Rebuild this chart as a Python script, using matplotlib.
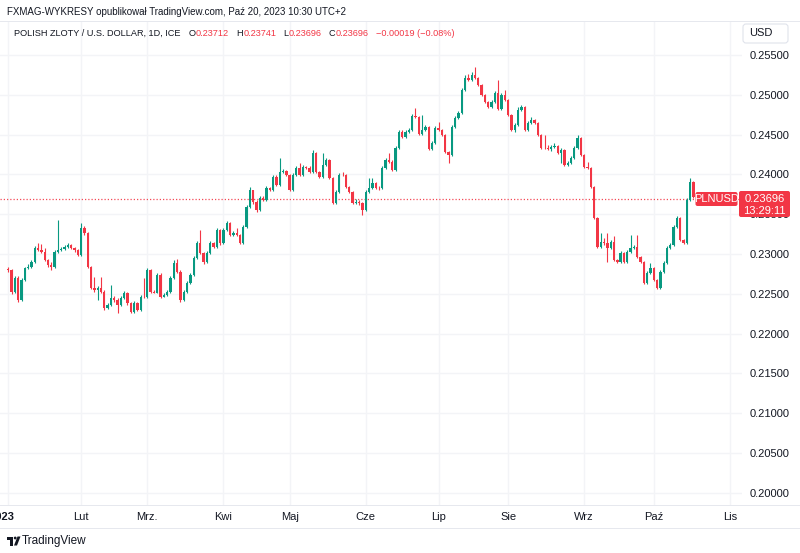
import matplotlib
matplotlib.use('Agg')
import matplotlib.pyplot as plt
from matplotlib import font_manager
from matplotlib.patches import FancyBboxPatch, Rectangle, Circle, Polygon

plt.rcParams['font.family'] = ['Liberation Sans', 'DejaVu Sans']

# PLN/USD daily candles, Jan 2 - Oct 20 2023
first_open = 0.22812
last_open = 0.23712
closes = [
    0.22800, 0.22523, 0.22699, 0.22423, 0.22674, 0.22825, 0.22837, 0.22900, 0.23076, 0.23051,
    0.23026, 0.22925, 0.22863, 0.22837, 0.23026, 0.23051, 0.23064, 0.23089, 0.23114, 0.23076,
    0.23051, 0.22988, 0.23327, 0.23265, 0.22837, 0.22574, 0.22549, 0.22574, 0.22523, 0.22323,
    0.22360, 0.22448, 0.22423, 0.22360, 0.22448, 0.22511, 0.22385, 0.22272, 0.22385, 0.22297,
    0.22461, 0.22455, 0.22800, 0.22523, 0.22515, 0.22737, 0.22461, 0.22486, 0.22523, 0.22699,
    0.22888, 0.22775, 0.22423, 0.22523, 0.22637, 0.22737, 0.22951, 0.23139,
    0.23013, 0.22900, 0.23013, 0.23139, 0.23089, 0.23302, 0.23139, 0.23302, 0.23390, 0.23239,
    0.23265, 0.23239, 0.23139, 0.23340, 0.23591, 0.23805, 0.23654, 0.23553, 0.23704, 0.23679,
    0.23830, 0.23805, 0.23968, 0.23867, 0.24031, 0.24043, 0.23993, 0.23805, 0.23993, 0.24081,
    0.23993, 0.24093, 0.24081, 0.24031, 0.24269, 0.24031, 0.23968, 0.24119, 0.24181, 0.23955,
    0.23641, 0.23779, 0.23993, 0.23990, 0.23842, 0.23779, 0.23641,
    0.23654, 0.23641, 0.23553, 0.23779, 0.23830, 0.23893, 0.23830, 0.23825, 0.24081, 0.24181,
    0.24156, 0.24056, 0.24332, 0.24533, 0.24470, 0.24533, 0.24558, 0.24734, 0.24721, 0.24508,
    0.24558, 0.24596, 0.24320, 0.24395, 0.24583, 0.24558, 0.24495, 0.24282, 0.24244, 0.24596,
    0.24709, 0.24772, 0.25061, 0.25211, 0.25186, 0.25249, 0.25211, 0.25123, 0.24998, 0.24910,
    0.24847, 0.24910, 0.25023, 0.24822, 0.24998, 0.24935, 0.24747, 0.24558, 0.24621, 0.24809,
    0.24847, 0.24558,
    0.24646, 0.24684, 0.24646, 0.24495, 0.24332, 0.24330, 0.24320, 0.24345, 0.24357, 0.24269,
    0.24307, 0.24119, 0.24144, 0.24207, 0.24332, 0.24458, 0.24244, 0.24093, 0.24081, 0.23842,
    0.23453, 0.23089, 0.23151, 0.23139, 0.23076, 0.23151, 0.22925, 0.22900, 0.23013, 0.22900,
    0.23026, 0.23076, 0.23089, 0.22963, 0.22900, 0.22637, 0.22762, 0.22825, 0.22674, 0.22574,
    0.22775, 0.22888, 0.23076, 0.23114, 0.23340, 0.23453, 0.23177, 0.23139, 0.23679, 0.23905,
    0.23715, 0.23696,
]
highs = [
    0.22837, 0.22812, 0.22724, 0.22724, 0.22699, 0.22837, 0.22875, 0.22925, 0.23101, 0.23139,
    0.23126, 0.23076, 0.22938, 0.22900, 0.23051, 0.23428, 0.23089, 0.23114, 0.23139, 0.23126,
    0.23089, 0.23064, 0.23390, 0.23352, 0.23277, 0.22850, 0.22712, 0.22599, 0.22712, 0.22549,
    0.22385, 0.22611, 0.22473, 0.22448, 0.22473, 0.22536, 0.22523, 0.22398, 0.22410, 0.22398,
    0.22486, 0.22699, 0.22825, 0.22812, 0.22549, 0.22762, 0.22762, 0.22511, 0.22549, 0.22724,
    0.22925, 0.22938, 0.22800, 0.22549, 0.22662, 0.22762, 0.22976, 0.23164,
    0.23302, 0.23026, 0.23038, 0.23164, 0.23151, 0.23327, 0.23315, 0.23327, 0.23415, 0.23403,
    0.23290, 0.23327, 0.23252, 0.23365, 0.23616, 0.23842, 0.23805, 0.23679, 0.23729, 0.23729,
    0.23855, 0.23842, 0.23993, 0.23993, 0.24207, 0.24068, 0.24056, 0.24006, 0.24018, 0.24106,
    0.24144, 0.24119, 0.24106, 0.24106, 0.24307, 0.24282, 0.24043, 0.24269, 0.24207, 0.24194,
    0.23968, 0.23805, 0.24018, 0.24031, 0.24006, 0.23855, 0.23792,
    0.23692, 0.23679, 0.23654, 0.23805, 0.23955, 0.23955, 0.23905, 0.23855, 0.24106, 0.24207,
    0.24269, 0.24181, 0.24357, 0.24558, 0.24558, 0.24558, 0.24583, 0.24759, 0.24834, 0.24734,
    0.24747, 0.24621, 0.24608, 0.24420, 0.24608, 0.24659, 0.24571, 0.24508, 0.24294, 0.24621,
    0.24734, 0.24797, 0.25086, 0.25249, 0.25262, 0.25287, 0.25350, 0.25224, 0.25136, 0.25010,
    0.24922, 0.24935, 0.25048, 0.25186, 0.25023, 0.25061, 0.24948, 0.24759, 0.24646, 0.24847,
    0.24872, 0.24860,
    0.24671, 0.24721, 0.24696, 0.24659, 0.24508, 0.24495, 0.24370, 0.24370, 0.24395, 0.24370,
    0.24332, 0.24320, 0.24169, 0.24232, 0.24357, 0.24495, 0.24470, 0.24257, 0.24156, 0.24093,
    0.23855, 0.23466, 0.23265, 0.23202, 0.23265, 0.23177, 0.23227, 0.22938, 0.23038, 0.23026,
    0.23051, 0.23239, 0.23114, 0.23239, 0.22976, 0.22913, 0.22787, 0.22888, 0.22837, 0.22687,
    0.22800, 0.22913, 0.23101, 0.23139, 0.23365, 0.23478, 0.23466, 0.23189, 0.23704, 0.23955,
    0.23918, 0.23741,
]
lows = [
    0.22775, 0.22498, 0.22511, 0.22398, 0.22410, 0.22662, 0.22812, 0.22825, 0.22888, 0.23038,
    0.23013, 0.22913, 0.22837, 0.22800, 0.22825, 0.23013, 0.23038, 0.23051, 0.23076, 0.23064,
    0.23026, 0.22976, 0.22976, 0.23239, 0.22825, 0.22561, 0.22523, 0.22423, 0.22511, 0.22297,
    0.22310, 0.22348, 0.22398, 0.22260, 0.22348, 0.22436, 0.22360, 0.22260, 0.22260, 0.22285,
    0.22285, 0.22448, 0.22448, 0.22511, 0.22511, 0.22511, 0.22448, 0.22461, 0.22473, 0.22511,
    0.22687, 0.22762, 0.22398, 0.22410, 0.22511, 0.22624, 0.22724, 0.22938,
    0.23001, 0.22875, 0.22888, 0.23001, 0.23076, 0.23076, 0.23114, 0.23126, 0.23290, 0.23227,
    0.23227, 0.23227, 0.23126, 0.23126, 0.23327, 0.23579, 0.23629, 0.23528, 0.23541, 0.23666,
    0.23666, 0.23792, 0.23792, 0.23855, 0.23855, 0.24018, 0.23980, 0.23792, 0.23792, 0.23980,
    0.23980, 0.23980, 0.24068, 0.24018, 0.24018, 0.24018, 0.23955, 0.23955, 0.24106, 0.23943,
    0.23629, 0.23629, 0.23767, 0.23980, 0.23830, 0.23767, 0.23629,
    0.23629, 0.23616, 0.23491, 0.23541, 0.23767, 0.23817, 0.23817, 0.23805, 0.23817, 0.24068,
    0.24144, 0.24043, 0.24043, 0.24320, 0.24458, 0.24458, 0.24521, 0.24546, 0.24709, 0.24495,
    0.24495, 0.24546, 0.24307, 0.24307, 0.24382, 0.24546, 0.24483, 0.24269, 0.24144, 0.24232,
    0.24583, 0.24696, 0.24759, 0.25048, 0.25174, 0.25174, 0.25199, 0.25111, 0.24985, 0.24897,
    0.24834, 0.24834, 0.24897, 0.24809, 0.24809, 0.24922, 0.24734, 0.24546, 0.24533, 0.24608,
    0.24797, 0.24546,
    0.24546, 0.24634, 0.24634, 0.24483, 0.24320, 0.24320, 0.24307, 0.24294, 0.24332, 0.24257,
    0.24144, 0.24106, 0.24106, 0.24131, 0.24194, 0.24320, 0.24232, 0.24081, 0.24068, 0.23830,
    0.23440, 0.23076, 0.23076, 0.23114, 0.22900, 0.23064, 0.22913, 0.22888, 0.22888, 0.22888,
    0.22888, 0.23013, 0.23064, 0.22951, 0.22888, 0.22624, 0.22624, 0.22750, 0.22662, 0.22561,
    0.22561, 0.22762, 0.22875, 0.23064, 0.23101, 0.23327, 0.23164, 0.23126, 0.23126, 0.23666,
    0.23704, 0.23696,
]

month_pos = [22, 42, 65, 85, 108, 130, 151, 174, 195, 218]
month_labels = ['Lut', 'Mrz.', 'Kwi', 'Maj', 'Cze', 'Lip', 'Sie', 'Wrz', 'Paź', 'Lis']
price_ticks = [0.200, 0.205, 0.210, 0.215, 0.220, 0.225, 0.230, 0.235, 0.240, 0.245, 0.250, 0.255]

UP = '#089981'
DOWN = '#f23645'
TXT = '#131722'
GRID = '#f3f4f7'

# narrow face for the header/legend texts if it is installed
names = {f.name for f in font_manager.fontManager.ttflist}
if 'Liberation Sans Narrow' in names:
    NARROW, NSCALE = ['Liberation Sans Narrow', 'DejaVu Sans'], 1.0
else:
    NARROW, NSCALE = ['Liberation Sans', 'DejaVu Sans'], 0.80

opens = [first_open] + closes[:-1]
opens[-1] = last_open
idx = list(range(len(closes)))
cols = [UP if c >= o else DOWN for o, c in zip(opens, closes)]
bottoms = [min(o, c) for o, c in zip(opens, closes)]
heights = [max(abs(c - o), 0.00003) for o, c in zip(opens, closes)]

W, H = 800, 553
fig = plt.figure(figsize=(W / 100, H / 100), dpi=100)
fig.patch.set_facecolor('white')

# main price pane
ax = fig.add_axes([0, 48 / H, 742 / W, 483 / H])
ax.set_xlim(-2.51, 221.66)
ax.set_ylim(0.19848, 0.25915)
ax.set_xticks([0] + month_pos)
ax.set_xticklabels([''] + month_labels)
ax.set_yticks(price_ticks)
ax.set_yticklabels([f'{v:.5f}' for v in price_ticks])
ax.yaxis.tick_right()
ax.tick_params(axis='both', length=0, labelsize=8, labelcolor=TXT)
ax.tick_params(axis='y', pad=5.8)
ax.tick_params(axis='x', pad=5)
ax.grid(True, color=GRID, lw=1)
ax.set_axisbelow(True)
for s in ax.spines.values():
    s.set_visible(False)

ax.vlines(idx, lows, highs, colors=cols, lw=0.8, zorder=2)
ax.bar(idx, heights, bottom=bottoms, width=0.7, color=cols, lw=0, zorder=3)
ax.axhline(closes[-1], color=DOWN, lw=0.9, ls=(0, (1, 1.6)), alpha=0.9, zorder=1)

# overlay in pixel coordinates for the TradingView chrome
ov = fig.add_axes([0, 0, 1, 1], zorder=10)
ov.set_xlim(0, W)
ov.set_ylim(H, 0)
ov.axis('off')
ov.patch.set_alpha(0)

for yy in (21, 505, 528):
    ov.plot([0, W], [yy, yy], color='#e6e8ee', lw=0.7)

ov.text(7, 12, 'FXMAG-WYKRESY opublikował TradingView.com, Paź 20, 2023 10:30 UTC+2',
        fontsize=8.8 * NSCALE, family=NARROW, color=TXT, va='center', ha='left')

# legend line, pieces laid out one after another
renderer = fig.canvas.get_renderer()


def put(x, s, color, gap):
    t = ov.text(x, 33.5, s, fontsize=8.2 * NSCALE, family=NARROW, color=color, va='center')
    return x + t.get_window_extent(renderer).width + gap


chg = closes[-1] - closes[-2]
pct = chg / closes[-2] * 100
x = put(14, 'POLISH ZLOTY / U.S. DOLLAR, 1D, ICE', TXT, 8)
for k, v in [('O', opens[-1]), ('H', highs[-1]), ('L', lows[-1]), ('C', closes[-1])]:
    x = put(x, k, TXT, 0.5)
    x = put(x, f'{v:.5f}', DOWN, 7)
put(x, f'{chg:.5f} ({pct:.2f}%)'.replace('-', '\u2212'), DOWN, 0)

# USD box
ov.add_patch(FancyBboxPatch((743, 24), 45, 19, boxstyle='round,pad=0,rounding_size=3',
                            fc='white', ec='#e0e3eb', lw=0.8))
ov.text(749, 33.5, 'USD', fontsize=8, color=TXT, va='center')

# last price tags
ov.add_patch(FancyBboxPatch((695.5, 192), 42, 14, boxstyle='round,pad=0,rounding_size=2',
                            fc=DOWN, ec='none'))
ov.text(716.5, 199, 'PLNUSD', fontsize=8, color='white', va='center', ha='center')
ov.add_patch(FancyBboxPatch((739, 191), 51, 26, boxstyle='round,pad=0,rounding_size=2',
                            fc=DOWN, ec='none'))
ov.text(764.5, 198.5, f'{closes[-1]:.5f}', fontsize=8, color='white', va='center', ha='center')
ov.text(764.5, 210.5, '13:29:11', fontsize=8, color='white', va='center', ha='center')

# year label (clipped at left edge, as in the screenshot)
ov.text(15, 516.5, '2023', fontsize=8, color=TXT, fontweight='bold', va='center', ha='right')

# TradingView logo
ov.add_patch(Rectangle((7, 536.5), 6, 3, fc=TXT, ec='none'))
ov.add_patch(Rectangle((10, 536.5), 3, 9, fc=TXT, ec='none'))
ov.add_patch(Circle((15.2, 538), 1.4, fc=TXT, ec='none'))
ov.add_patch(Polygon([(17.5, 536.5), (20.5, 536.5), (17, 545.5), (14, 545.5)], fc=TXT, ec='none'))
ov.text(22, 541, 'TradingView', fontsize=8.5, color=TXT, va='center', ha='left')

fig.savefig('out.png', dpi=100)
